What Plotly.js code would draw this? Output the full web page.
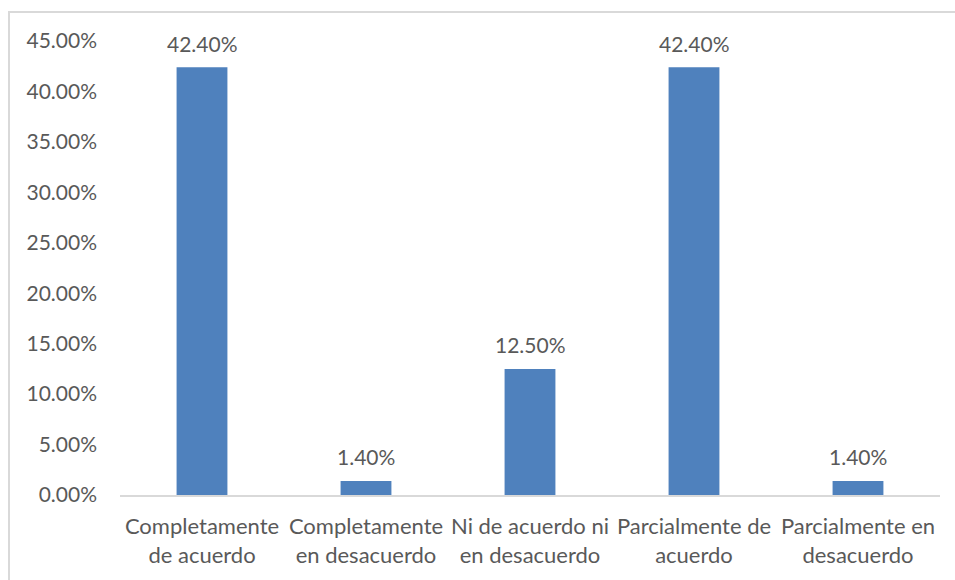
<!DOCTYPE html>
<html>
<head>
<meta charset="utf-8">
<script src="https://cdn.plot.ly/plotly-3.0.1.min.js"></script>
<style>
  html, body { margin: 0; padding: 0; background: #fff; overflow: hidden; }
  #frame { position: absolute; left: 8px; top: 11px; width: 1000px; height: 1000px; border: 2px solid #d9d9d9; box-sizing: border-box; }
  #chart { position: absolute; left: 0; top: 0; width: 955px; height: 580px; }
</style>
</head>
<body>
<div id="frame"></div>
<div id="chart"></div>
<script>
const categories = [
  "Completamente<br>de acuerdo",
  "Completamente<br>en desacuerdo",
  "Ni de acuerdo ni<br>en desacuerdo",
  "Parcialmente de<br>acuerdo",
  "Parcialmente en<br>desacuerdo"
];
const values = [0.424, 0.014, 0.125, 0.424, 0.014];
const valueLabels = ["42.40%", "1.40%", "12.50%", "42.40%", "1.40%"];

const fontFam = "Lato, 'Open Sans', sans-serif";
const txtColor = "#595959";

const annotations = categories.map((c, i) => ({
  x: c,
  y: values[i],
  xref: "x",
  yref: "y",
  text: valueLabels[i],
  showarrow: false,
  yanchor: "middle",
  yshift: 24,
  font: { family: fontFam, size: 21, color: txtColor }
}));

Plotly.newPlot("chart", [{
  type: "bar",
  x: categories,
  y: values,
  marker: { color: "#4f81bd" },
  hoverinfo: "none"
}], {
  width: 955,
  height: 580,
  margin: { l: 120, r: 15, t: 41, b: 85 },
  paper_bgcolor: "rgba(0,0,0,0)",
  plot_bgcolor: "rgba(0,0,0,0)",
  bargap: 0.69,
  showlegend: false,
  font: { family: fontFam, size: 21, color: txtColor },
  annotations: annotations,
  xaxis: {
    showline: true,
    linecolor: "#d9d9d9",
    linewidth: 1.5,
    ticks: "",
    showgrid: false,
    tickfont: { family: fontFam, size: 22, color: txtColor },
    ticklabelstandoff: 11
  },
  yaxis: {
    range: [0, 0.45],
    dtick: 0.05,
    tick0: 0,
    tickformat: ".2%",
    showgrid: false,
    zeroline: false,
    showline: false,
    ticks: "",
    tickfont: { family: fontFam, size: 21, color: txtColor },
    ticklabelstandoff: 22
  }
}, { displayModeBar: false, staticPlot: true });
</script>
</body>
</html>
